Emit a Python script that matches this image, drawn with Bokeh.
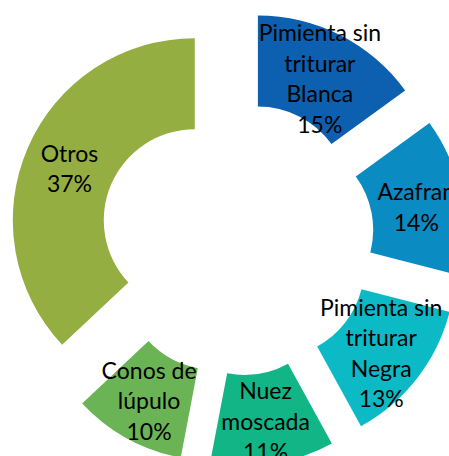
import math
from bokeh.plotting import figure
from bokeh.models import Range1d, ColumnDataSource
from bokeh.core.properties import value
from bokeh.embed import file_html
from bokeh.resources import INLINE

categories = ["Pimienta sin\ntriturar\nBlanca", "Azafran", "Pimienta sin\ntriturar\nNegra",
              "Nuez\nmoscada", "Conos de\nlúpulo", "Otros"]
percent = [15, 14, 13, 11, 10, 37]
colors = ["#0D5FAF", "#0A8BC2", "#0CBAC6", "#12B686", "#6AB455", "#95AE42"]

# geometry (pixels)
CX, CY = 236.5, -238.0
R_OUT, R_IN = 182.0, 91.0
EXPLODE = 46.0

W, H = 449, 456

total = sum(percent)
xs, ys, starts, ends, lx, ly, labels = [], [], [], [], [], [], []
acc = 0.0
for cat, v in zip(categories, percent):
    a0 = acc / total * 360.0
    a1 = (acc + v) / total * 360.0
    acc += v
    mid = math.radians((a0 + a1) / 2)
    dx, dy = math.sin(mid), math.cos(mid)
    ox, oy = CX + EXPLODE * dx, CY + EXPLODE * dy
    xs.append(ox); ys.append(oy)
    starts.append(math.radians(90 - a0)); ends.append(math.radians(90 - a1))
    rm = (R_OUT + R_IN) / 2
    lx.append(ox + rm * dx); ly.append(oy + rm * dy - 2)
    labels.append(f"{cat}\n{v}%")

p = figure(width=W, height=H, output_backend="svg", toolbar_location=None,
           x_range=Range1d(0, W), y_range=Range1d(-H, 0),
           min_border=0, outline_line_color=None)
p.axis.visible = False
p.grid.visible = False
p.background_fill_color = "white"
p.border_fill_color = "white"

src = ColumnDataSource(dict(x=xs, y=ys, start=starts, end=ends, color=colors))
p.annular_wedge(x="x", y="y", inner_radius=R_IN, outer_radius=R_OUT,
                start_angle="start", end_angle="end", direction="clock",
                fill_color="color", line_color=None, source=src)

tsrc = ColumnDataSource(dict(x=lx, y=ly, text=labels))
p.text(x="x", y="y", text="text", source=tsrc, text_font=value("Lato"),
       text_font_size="23px", text_color="#000000", text_align="center",
       text_baseline="middle", text_line_height=1.09)

open("out.html", "w").write(file_html(p, INLINE))
